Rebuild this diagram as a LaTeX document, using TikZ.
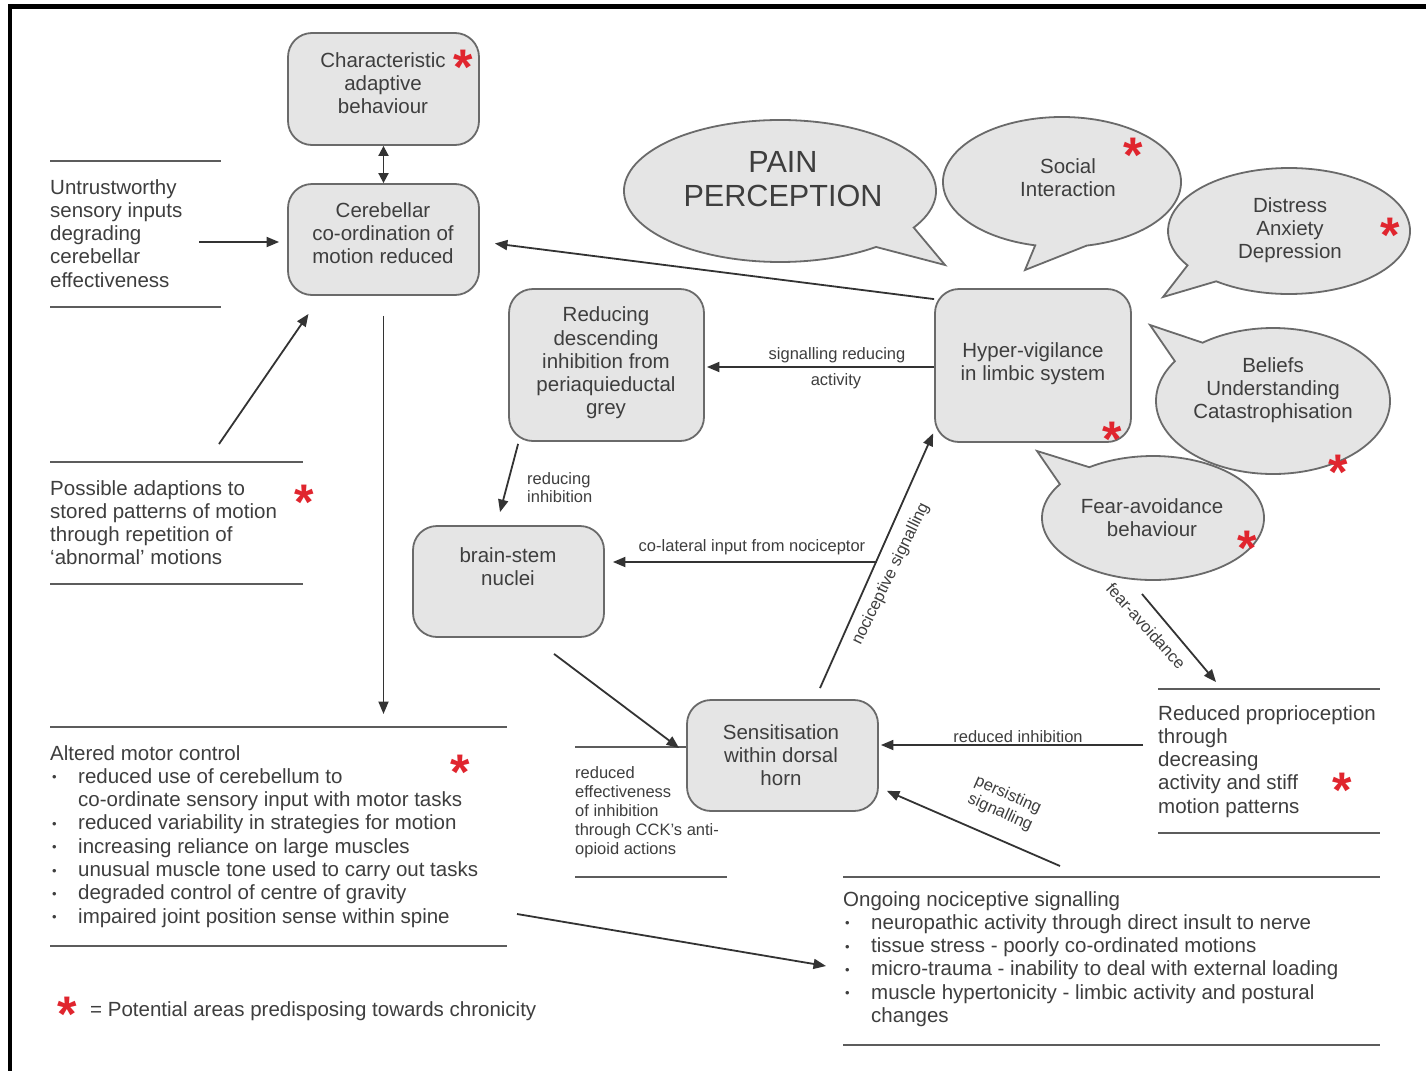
\documentclass[tikz,border=0pt]{standalone}
\usepackage{fontspec}
\setmainfont{Liberation Sans}
\usetikzlibrary{arrows.meta,calc,shapes.geometric}
\definecolor{boxfill}{HTML}{E5E5E5}
\definecolor{boxline}{HTML}{6A6A6A}
\definecolor{linec}{HTML}{333333}
\definecolor{rulec}{HTML}{5C5C5C}
\definecolor{txtc}{HTML}{3E3E3E}
\definecolor{astred}{HTML}{E0252E}
\newcommand\bul{\makebox[28pt][l]{\hspace{2pt}\raisebox{1.5pt}{\fontsize{13}{13}\selectfont •}}}
\newcommand\bind{\hspace*{28pt}}
\newcommand\redast{\raisebox{-0.55em}{*}}
\begin{document}
\begin{tikzpicture}[x=1pt,y=-1pt,
  boxn/.style={draw=boxline, fill=boxfill, line width=1.8pt, rounded corners=24pt, inner sep=0pt},
  bub/.style={draw=boxline, fill=boxfill, line width=1.8pt},
  blk/.style={inner sep=0pt, outer sep=0pt},
  txt/.style={text=txtc, font=\fontsize{20.5}{23.3}\selectfont, align=center, inner sep=0pt},
  ltxt/.style={text=txtc, font=\fontsize{20.5}{23.3}\selectfont, align=left, inner sep=0pt, anchor=north west},
  stxt/.style={text=txtc, font=\fontsize{16.5}{19}\selectfont, inner sep=0pt},
  arr/.style={draw=linec, line width=1.8pt, -{Triangle[length=12.5pt,width=10pt]}},
  rulel/.style={draw=rulec, line width=2.6pt},
  rast/.style={text=astred, font=\bfseries\fontsize{50}{50}\selectfont, inner sep=0pt, anchor=base}
]
\useasboundingbox (0,0) rectangle (1426,1071);
\fill[white] (0,0) rectangle (1426,1071);
% frame
\draw[line width=5pt] (8,6) -- (1426,6);
\draw[line width=4pt] (10,4) -- (10,1071);

% speech bubbles
\coordinate (pp) at (780,191);
\coordinate (soc) at (1062,182);
\coordinate (dis) at (1289,231);
\coordinate (bel) at (1273,401);
\coordinate (fav) at (1153,518);
\path[bub] ($(pp)+(-31:156pt and 71pt)$) arc[start angle=-31, end angle=308, x radius=156pt, y radius=71pt] -- (945,265) -- cycle;
\path[bub] ($(soc)+(-78:119pt and 65pt)$) arc[start angle=-78, end angle=257, x radius=119pt, y radius=65pt] -- (1025,270) -- cycle;
\path[bub] ($(dis)+(-127:121pt and 63pt)$) arc[start angle=-127, end angle=213, x radius=121pt, y radius=63pt] -- (1163,297) -- cycle;
\path[bub] ($(bel)+(147:117pt and 73pt)$) arc[start angle=147, end angle=487, x radius=117pt, y radius=73pt] -- (1150,325) -- cycle;
\path[bub] ($(fav)+(147:111pt and 62pt)$) arc[start angle=147, end angle=485, x radius=111pt, y radius=62pt] -- (1037,451) -- cycle;

\node[txt, font=\fontsize{30.6}{34}\selectfont] (tpp) at (783,179) {PAIN\\PERCEPTION};
\node[txt] (tsoc) at (1068,178) {Social\\Interaction};
\node[txt] (tdis) at (1290,230) {Distress\\Anxiety\\Depression};
\node[txt] (tbel) at (1273,390) {Beliefs\\Understanding\\Catastrophisation};
\node[txt] (tfav) at (1152,518) {Fear-avoidance\\behaviour};

% boxes
\node[boxn, minimum width=191pt, minimum height=112pt] (cab) at (383.5,89) {};
\node[boxn, minimum width=191pt, minimum height=111pt] (cer) at (383.5,239.5) {};
\node[boxn, minimum width=195pt, minimum height=152pt] (rdi) at (606.5,365) {};
\node[boxn, minimum width=196pt, minimum height=153pt] (hyp) at (1033,365.5) {};
\node[boxn, minimum width=191pt, minimum height=111pt] (bsn) at (508.5,581.5) {};
\node[boxn, minimum width=191pt, minimum height=111pt] (sen) at (782.5,755.5) {};

\node[txt] (tcab) at (383,83) {Characteristic\\adaptive\\behaviour};
\node[txt] (tcer) at (383,233) {Cerebellar\\co-ordination of\\motion reduced};
\node[txt] (trdi) at (606,363) {Reducing\\descending\\inhibition from\\periaquieductal\\grey};
\node[txt] (thyp) at (1033,364) {Hyper-vigilance\\in limbic system};
\node[txt] (tbsn) at (508,567) {brain-stem\\nuclei};
\node[txt] (tsen) at (781,755) {Sensitisation\\within dorsal\\horn};

% text blocks with rules
\node[blk, minimum width=171pt, minimum height=146pt] (unt) at (135.5,234) {};
\node[blk, minimum width=253pt, minimum height=122pt] (pos) at (176.5,523) {};
\node[blk, minimum width=457pt, minimum height=219pt] (amb) at (278.5,836.5) {};
\node[blk, minimum width=152pt, minimum height=130pt] (ref) at (651,812) {};
\node[blk, minimum width=222pt, minimum height=144pt] (rp) at (1269,761) {};
\node[blk, minimum width=537pt, minimum height=168pt] (ong) at (1111.5,961) {};
\foreach \b in {unt,pos,amb,rp,ong}{
  \draw[rulel] (\b.north west) -- (\b.north east);
  \draw[rulel] (\b.south west) -- (\b.south east);
}
\draw[rulel] (ref.north west) -- (ref.north -| sen.west);
\draw[rulel] (ref.south west) -- (ref.south east);

\node[ltxt] (tunt) at (50,179) {Untrustworthy\\sensory inputs\\degrading\\cerebellar\\effectiveness};
\node[ltxt] (tpos) at (50,480) {Possible adaptions to\\stored patterns of motion\\through repetition of\\‘abnormal’ motions};
\node[ltxt] (tamc) at (50,745) {Altered motor control\\
\bul reduced use of cerebellum to\\
\bind co-ordinate sensory input with motor tasks\\
\bul reduced variability in strategies for motion\\
\bul increasing reliance on large muscles\\
\bul unusual muscle tone used to carry out tasks\\
\bul degraded control of centre of gravity\\
\bul impaired joint position sense within spine};
\node[ltxt, font=\fontsize{16.5}{19}\selectfont] (tref) at (575,766) {reduced\\effectiveness\\of inhibition\\through CCK's anti-\\opioid actions};
\node[ltxt] (trp) at (1158,705) {Reduced proprioception\\through\\decreasing\\activity and stiff\\motion patterns};
\node[ltxt] (tong) at (843,891) {Ongoing nociceptive signalling\\
\bul neuropathic activity through direct insult to nerve\\
\bul tissue stress - poorly co-ordinated motions\\
\bul micro-trauma - inability to deal with external loading\\
\bul muscle hypertonicity - limbic activity and postural\\
\bind changes};
\node[txt, anchor=west] (tleg) at (90,1011) {= Potential areas predisposing towards chronicity};

% asterisks
\node[rast] (s1) at (463,57) {\redast};
\node[rast] (s2) at (1133,145) {\redast};
\node[rast] (s3) at (1390,225) {\redast};
\node[rast] (s4) at (1112,429) {\redast};
\node[rast] (s5) at (1338,462) {\redast};
\node[rast] (s6) at (1247,538) {\redast};
\node[rast] (s7) at (304,492) {\redast};
\node[rast] (s8) at (460,762) {\redast};
\node[rast] (s9) at (1342,780) {\redast};
\node[rast] (s10) at (67,1004) {\redast};

% connectors
\draw[draw=linec, line width=1.8pt, {Triangle[length=10pt,width=10pt]}-{Triangle[length=10pt,width=10pt]}] (cab.south) -- (cer.north);
\coordinate (untA) at (199,242);
\draw[arr] (untA) -- ($(cer.west)+(-8,2.5)$);
\coordinate (posA) at (219,444);
\draw[arr] (posA) -- ($(cer.south)+(-75,18)$);
\draw[arr] ($(cer.south)+(0,20)$) -- ($(cer.south |- amb.north)+(0,-13)$);
\draw[arr] ($(hyp.north west)+(0,11)$) -- ($(cer.east)+(15,4)$);
\draw[arr] ($(hyp.west)+(0,1.5)$) -- ($(rdi.east)+(2,2)$);
\draw[arr] ($(rdi.south west)+(10,2)$) -- ($(bsn.north)+(-8.5,-13)$);
\coordinate (colA) at (877,562);
\draw[arr] (colA) -- ($(bsn.east)+(8,-19.5)$);
\draw[arr] ($(sen.north)+(37.5,-11)$) -- ($(hyp.south west)+(-1,-9.5)$);
\draw[arr] ($(bsn.south)+(45.5,16)$) -- ($(sen.west)+(-7,-7.5)$);
\draw[arr] ($(rp.north west)+(-15,56)$) -- ($(sen.east)+(2,-10.5)$);
\draw[arr] ($(ong.north west)+(217,-11)$) -- ($(sen.south east)+(8,-21)$);
\draw[arr] ($(fav)+(-11,76)$) -- ($(rp.north west)+(58,-7)$);
\draw[arr] ($(amb.east)+(10,77.5)$) -- ($(ong.west)+(-17,5)$);

% connector labels
\node[stxt] (lsig) at (837,355) {signalling reducing};
\node[stxt] (lact) at (836,381) {activity};
\node[stxt, align=left, anchor=north west, font=\fontsize{16.5}{18}\selectfont] (lred) at (527,472) {reducing\\inhibition};
\node[stxt] (lcol) at (752,547) {co-lateral input from nociceptor};
\node[stxt] (lri) at (1018,737) {reduced inhibition};
\node[stxt, rotate=64] (lnoc) at (891,574) {nociceptive signalling};
\node[stxt, rotate=-24, align=center] (lper) at (1004,804) {persisting\\signalling};
\node[stxt, rotate=-48] (lfea) at (1146,626) {fear-avoidance};
\end{tikzpicture}
\end{document}
